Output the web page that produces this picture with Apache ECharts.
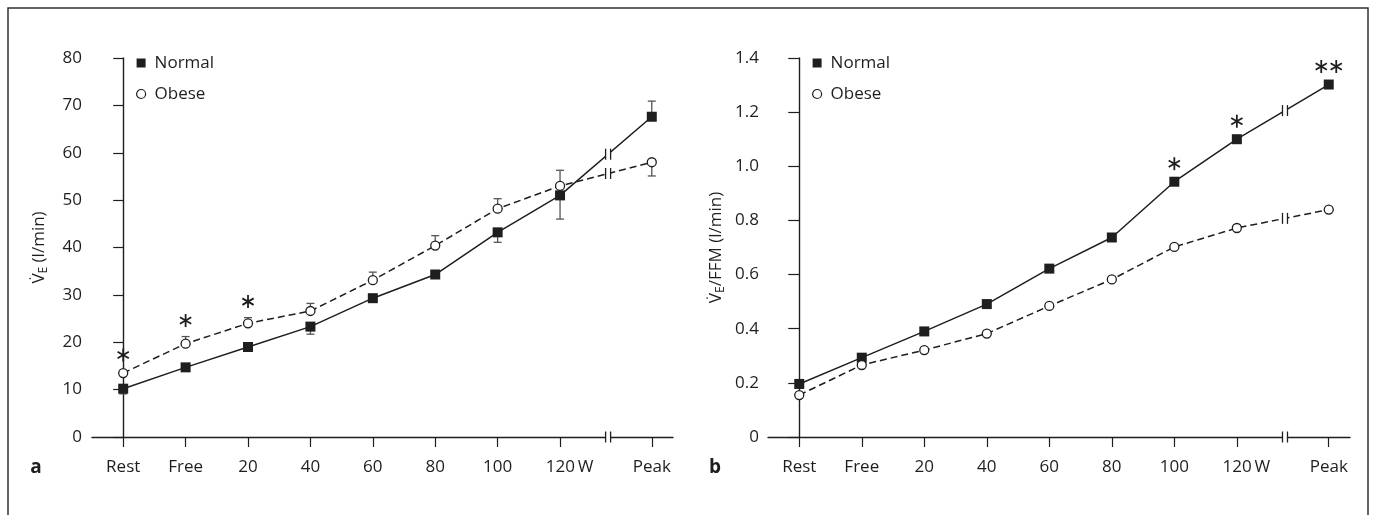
<!DOCTYPE html>
<html><head><meta charset="utf-8">
<script src="https://cdn.jsdelivr.net/npm/echarts@6/dist/echarts.min.js"></script>
<style>html,body{margin:0;padding:0;background:#fff}#c{width:1375px;height:515px}</style>
</head><body><div id="c"></div>
<script>
// ---------- data ----------
const categories = ['Rest', 'Free', '20', '40', '60', '80', '100', '120 W', 'Peak'];
const veNormal    = [10.2, 14.7, 19.0, 23.3, 29.3, 34.3, 43.2, 51.0, 67.6];
const veNormalErr = [-1.1, 0, 0, -1.6, 0, 0, -2.1, -5.0, 3.3];
const veObese     = [13.5, 19.7, 24.0, 26.6, 33.1, 40.4, 48.2, 53.0, 58.0];
const veObeseErr  = [0, 1.5, 1.2, 1.6, 1.7, 2.1, 2.1, 3.3, -2.9];
const veSig       = ['*', '*', '*', '', '', '', '', '', ''];      // marks above Obese
const ffmNormal   = [0.196, 0.293, 0.390, 0.491, 0.622, 0.737, 0.943, 1.100, 1.302];
const ffmObese    = [0.155, 0.266, 0.321, 0.382, 0.484, 0.582, 0.702, 0.772, 0.840];
const ffmSig      = ['', '', '', '', '', '', '*', '*', '**'];     // marks above Normal
const veTicks  = [0, 10, 20, 30, 40, 50, 60, 70, 80];
const ffmTicks = [0, 0.2, 0.4, 0.6, 0.8, 1.0, 1.2, 1.4];

// ---------- layout helpers ----------
const FONT = '"Open Sans", "Noto Sans", sans-serif';
const INK = '#1e1e1e';
const PEAK_GAP = 1.47, BREAK_AT = 0.77;
const nCat = categories.length;
const xPos = i => i < nCat - 1 ? i : (nCat - 2) + PEAK_GAP;
const breakX = (nCat - 2) + BREAK_AT;
const tickVals = categories.map((c, i) => xPos(i));
function labelFor(v) {
  const i = tickVals.findIndex(t => Math.abs(t - v) < 1e-6);
  if (i < 0) return '';
  const s = categories[i];
  return s.endsWith(' W') ? '{u|' + s.replace(' ', '\u2009') + '}' : s;
}
function interpAtBreak(vals) {
  const a = xPos(nCat - 2), b = xPos(nCat - 1);
  return vals[nCat - 2] + (vals[nCat - 1] - vals[nCat - 2]) * (breakX - a) / (b - a);
}

function xAxisCfg(gi) {
  return {
    gridIndex: gi, type: 'value', min: -0.5, max: 8.81,
    axisLine: { show: true, onZero: false, lineStyle: { color: INK, width: 1.4 } },
    axisTick: { show: true, customValues: tickVals, length: 10, lineStyle: { color: INK, width: 1.2 } },
    axisLabel: {
      customValues: tickVals, formatter: labelFor, margin: 22,
      fontFamily: FONT, fontSize: 17, color: INK,
      rich: { u: { padding: [0, 0, 0, 19], fontFamily: FONT, fontSize: 17, color: INK } }
    },
    splitLine: { show: false }
  };
}
function yAxisCfg(gi, ticks, off, fmt, tail, gap) {
  return {
    gridIndex: gi, type: 'value', min: ticks[0], max: ticks[ticks.length - 1],
    interval: ticks[1] - ticks[0], offset: off,
    axisLine: { show: true, lineStyle: { color: INK, width: 1.4 } },
    axisTick: { show: true, length: -off, lineStyle: { color: INK, width: 1.2 } },
    axisLabel: { margin: 20, fontFamily: FONT, fontSize: 17, color: INK, formatter: fmt },
    splitLine: { show: false },
    name: '{v|V\u0307}{e|E}{t|' + tail + '}',
    nameLocation: 'middle', nameRotate: 90, nameGap: gap,
    nameTextStyle: {
      rich: {
        v: { fontFamily: FONT, fontSize: 17, color: INK, lineHeight: 22 },
        e: { fontFamily: FONT, fontSize: 12, color: INK, lineHeight: 14, verticalAlign: 'bottom' },
        t: { fontFamily: FONT, fontSize: 17, color: INK, lineHeight: 22 }
      }
    }
  };
}

function lineSeries(name, vals, gi, dashed) {
  return {
    name, type: 'line', xAxisIndex: gi, yAxisIndex: gi, z: 3,
    data: vals.map((v, i) => [xPos(i), v]),
    symbol: dashed ? 'circle' : 'rect', symbolSize: dashed ? 9 : 10,
    lineStyle: { color: INK, width: 1.5, type: dashed ? [7, 4] : 'solid' },
    itemStyle: dashed ? { color: '#fff', borderColor: INK, borderWidth: 1.3 } : { color: INK },
    emphasis: { disabled: true }, animation: false
  };
}
function errSeries(vals, errs, gi) {
  return {
    type: 'custom', xAxisIndex: gi, yAxisIndex: gi, z: 2, silent: true, animation: false,
    data: vals.map((v, i) => [xPos(i), v, errs[i]]).filter(d => d[2] !== 0),
    renderItem(params, api) {
      const x = api.value(0), y = api.value(1), e = api.value(2);
      const p1 = api.coord([x, y]), p2 = api.coord([x, y + e]);
      const st = { stroke: '#555', lineWidth: 1.3 };
      return { type: 'group', children: [
        { type: 'line', shape: { x1: p1[0], y1: p1[1], x2: p2[0], y2: p2[1] }, style: st },
        { type: 'line', shape: { x1: p2[0] - 4, y1: p2[1], x2: p2[0] + 4, y2: p2[1] }, style: st }
      ] };
    }
  };
}
function breakSeries(valsA, valsB, gi) {
  return {
    type: 'custom', xAxisIndex: gi, yAxisIndex: gi, z: 4, silent: true, clip: false, animation: false,
    data: [[breakX, interpAtBreak(valsA)], [breakX, interpAtBreak(valsB)], [breakX, 0]],
    renderItem(params, api) {
      const p = api.coord([api.value(0), api.value(1)]);
      const st = { stroke: INK, lineWidth: 1.3 };
      return { type: 'group', children: [
        { type: 'rect', shape: { x: p[0] - 2.5, y: p[1] - 3, width: 5, height: 6 }, style: { fill: '#fff' } },
        { type: 'line', shape: { x1: p[0] - 2.5, y1: p[1] - 5.5, x2: p[0] - 2.5, y2: p[1] + 5.5 }, style: st },
        { type: 'line', shape: { x1: p[0] + 2.5, y1: p[1] - 5.5, x2: p[0] + 2.5, y2: p[1] + 5.5 }, style: st }
      ] };
    }
  };
}
function sigSeries(vals, errs, sig, gi) {
  const data = [];
  sig.forEach((s, i) => { if (s) data.push([xPos(i), vals[i], errs ? Math.max(0, errs[i]) : 0, s.length]); });
  return {
    type: 'custom', xAxisIndex: gi, yAxisIndex: gi, z: 4, silent: true, clip: false, animation: false,
    data,
    renderItem(params, api) {
      const x = api.value(0), y = api.value(1), up = api.value(2), k = api.value(3);
      const p = api.coord([x, y]), pe = api.coord([x, y + up]);
      const cy = Math.min(p[1] - 18, pe[1] - 16);
      const r = 6.5, sp = 15, children = [];
      for (let j = 0; j < k; j++) {
        const cx = p[0] + (j - (k - 1) / 2) * sp;
        [90, 30, 150].forEach(a => {
          const rad = a * Math.PI / 180;
          children.push({ type: 'line',
            shape: { x1: cx - r * Math.cos(rad), y1: cy - r * Math.sin(rad), x2: cx + r * Math.cos(rad), y2: cy + r * Math.sin(rad) },
            style: { stroke: INK, lineWidth: 1.8 } });
        });
      }
      return { type: 'group', children };
    }
  };
}
function legendCfg(left) {
  return {
    orient: 'vertical', left, top: 48, itemGap: 11, itemWidth: 9, itemHeight: 9,
    selectedMode: false,
    textStyle: { fontFamily: FONT, fontSize: 17, color: INK, lineHeight: 20, padding: [0, 0, 0, 4] },
    data: [
      { name: 'Normal', icon: 'rect', itemStyle: { color: INK } },
      { name: 'Obese', icon: 'circle', itemStyle: { color: '#fff', borderColor: INK, borderWidth: 1.2 } }
    ]
  };
}

const chart = echarts.init(document.getElementById('c'), null, { renderer: 'canvas' });
chart.setOption({
  backgroundColor: '#fff',
  animation: false,
  grid: [
    { left: 92, right: 702, top: 58, bottom: 78 },
    { left: 768, right: 25, top: 58, bottom: 78 }
  ],
  xAxis: [xAxisCfg(0), xAxisCfg(1)],
  yAxis: [
    yAxisCfg(0, veTicks, -10, v => String(v), ' (l/min)', 52),
    yAxisCfg(1, ffmTicks, -11, v => v === 0 ? '0' : v.toFixed(1), '/FFM (l/min)', 52)
  ],
  legend: [legendCfg(131), legendCfg(807)],
  series: [
    errSeries(veNormal, veNormalErr, 0),
    errSeries(veObese, veObeseErr, 0),
    lineSeries('Normal', veNormal, 0, false),
    lineSeries('Obese', veObese, 0, true),
    breakSeries(veNormal, veObese, 0),
    sigSeries(veObese, veObeseErr, veSig, 0),
    lineSeries('Normal', ffmNormal, 1, false),
    lineSeries('Obese', ffmObese, 1, true),
    breakSeries(ffmNormal, ffmObese, 1),
    sigSeries(ffmNormal, null, ffmSig, 1)
  ],
  graphic: [
    { type: 'rect', shape: { x: 8, y: 8, width: 1360, height: 530 }, style: { fill: 'none', stroke: '#333', lineWidth: 1.5 }, silent: true },
    { type: 'text', x: 36, y: 468, style: { text: 'a', fontFamily: FONT, fontSize: 19, fontWeight: 'bold', fill: INK, align: 'center', verticalAlign: 'middle' } },
    { type: 'text', x: 715, y: 468, style: { text: 'b', fontFamily: FONT, fontSize: 19, fontWeight: 'bold', fill: INK, align: 'center', verticalAlign: 'middle' } }
  ]
});
</script>
</body></html>
